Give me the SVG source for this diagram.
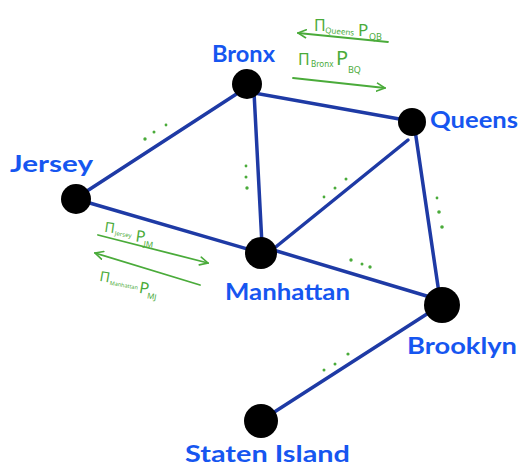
<svg xmlns="http://www.w3.org/2000/svg" width="524" height="471" viewBox="0 0 524 471">
<defs>
<style>
.edge{stroke:#1e3aa5;stroke-width:3.5;stroke-linecap:round;fill:none}
.node{fill:#000}
.lbl{font-family:"Lato","Noto Sans",sans-serif;font-weight:700;fill:#1656f0;font-size:22px}
.ann{font-family:"Noto Sans","DejaVu Sans",sans-serif;fill:#4aab3a}
.big{font-size:16px}
.sub{font-size:8px}
.aline{stroke:#4aab3a;stroke-width:1.8;fill:none;stroke-linecap:round}
.dot{fill:#4aab3a}
</style>
<marker id="ah" viewBox="0 0 10 10" refX="9" refY="5" markerWidth="10" markerHeight="10" markerUnits="userSpaceOnUse" orient="auto">
<path d="M1,1 L9,5 L1,9" fill="none" stroke="#4aab3a" stroke-width="1.6" stroke-linecap="round"/>
</marker>
</defs>
<rect width="524" height="471" fill="#fff"/>
<g id="connectors">
<line class="edge" x1="87" y1="191" x2="238" y2="93"/>
<line class="edge" x1="254" y1="93" x2="405" y2="120"/>
<line class="edge" x1="254" y1="92" x2="262" y2="245"/>
<line class="edge" x1="76" y1="199" x2="261" y2="253"/>
<line class="edge" x1="272" y1="250" x2="408" y2="140"/>
<line class="edge" x1="415" y1="130" x2="440" y2="300"/>
<line class="edge" x1="270" y1="249" x2="440" y2="300"/>
<line class="edge" x1="430" y1="312" x2="265" y2="418"/>
</g>
<g id="dots">
<circle class="dot" cx="145" cy="139" r="1.7"/><circle class="dot" cx="154" cy="132" r="1.5"/><circle class="dot" cx="166" cy="125" r="1.4"/>
<circle class="dot" cx="246" cy="166" r="1.4"/><circle class="dot" cx="246" cy="177" r="1.5"/><circle class="dot" cx="247" cy="188" r="1.7"/>
<circle class="dot" cx="324" cy="197" r="1.4"/><circle class="dot" cx="335" cy="188" r="1.5"/><circle class="dot" cx="346" cy="179" r="1.5"/>
<circle class="dot" cx="437" cy="198" r="1.4"/><circle class="dot" cx="439" cy="212" r="1.8"/><circle class="dot" cx="442" cy="227" r="1.8"/>
<circle class="dot" cx="351" cy="260" r="1.7"/><circle class="dot" cx="362" cy="264" r="1.5"/><circle class="dot" cx="370" cy="267" r="1.7"/>
<circle class="dot" cx="324" cy="370" r="1.5"/><circle class="dot" cx="335" cy="364" r="1.5"/><circle class="dot" cx="348" cy="354" r="1.6"/>
</g>
<g id="annotations">
<line class="aline" x1="388" y1="42" x2="298" y2="33" marker-end="url(#ah)"/>
<text class="ann big" x="314" y="31">Π</text><text class="ann sub" x="325" y="33" transform="rotate(5 325 33)">Queens</text>
<text class="ann" font-size="17" x="358" y="36">P</text><text class="ann" font-size="9" x="369" y="40">QB</text>
<line class="aline" x1="293" y1="78" x2="385" y2="88" marker-end="url(#ah)"/>
<text class="ann big" x="298" y="65">Π</text><text class="ann sub" x="311" y="67">Bronx</text>
<text class="ann" font-size="20" x="336" y="65">P</text><text class="ann" font-size="9" x="348" y="73">BQ</text>
<line class="aline" x1="98" y1="235" x2="208" y2="263" marker-end="url(#ah)"/>
<g transform="rotate(8 105 232)">
<text class="ann" font-size="14" x="104" y="232">Π</text><text class="ann" font-size="6" x="115" y="234">Jersey</text>
<text class="ann" font-size="16" x="136" y="237">P</text><text class="ann" font-size="8" x="145" y="241">JM</text>
</g>
<line class="aline" x1="200" y1="285" x2="95" y2="253" marker-end="url(#ah)"/>
<g transform="rotate(10 100 281)">
<text class="ann" font-size="14" x="99" y="281">Π</text><text class="ann" font-size="5.5" x="110" y="283">Manhattan</text>
<text class="ann" font-size="16" x="140" y="286">P</text><text class="ann" font-size="8" x="149" y="290">MJ</text>
</g>
</g>
<g id="bronx"><circle class="node" cx="247" cy="84" r="15"/><text class="lbl" x="212" y="62" textLength="63" lengthAdjust="spacingAndGlyphs">Bronx</text></g>
<g id="queens"><circle class="node" cx="412" cy="122" r="14"/><text class="lbl" x="430" y="128" textLength="88" lengthAdjust="spacingAndGlyphs">Queens</text></g>
<g id="jersey"><circle class="node" cx="76" cy="199" r="15"/><text class="lbl" x="10" y="172" textLength="83" lengthAdjust="spacingAndGlyphs">Jersey</text></g>
<g id="manhattan"><circle class="node" cx="261" cy="253" r="16"/><text class="lbl" x="225" y="300" textLength="125" lengthAdjust="spacingAndGlyphs">Manhattan</text></g>
<g id="brooklyn"><circle class="node" cx="442" cy="305" r="18"/><text class="lbl" x="407" y="354" textLength="110" lengthAdjust="spacingAndGlyphs">Brooklyn</text></g>
<g id="staten-island"><circle class="node" cx="261" cy="421" r="17"/><text class="lbl" x="185" y="462" textLength="165" lengthAdjust="spacingAndGlyphs">Staten Island</text></g>
</svg>
